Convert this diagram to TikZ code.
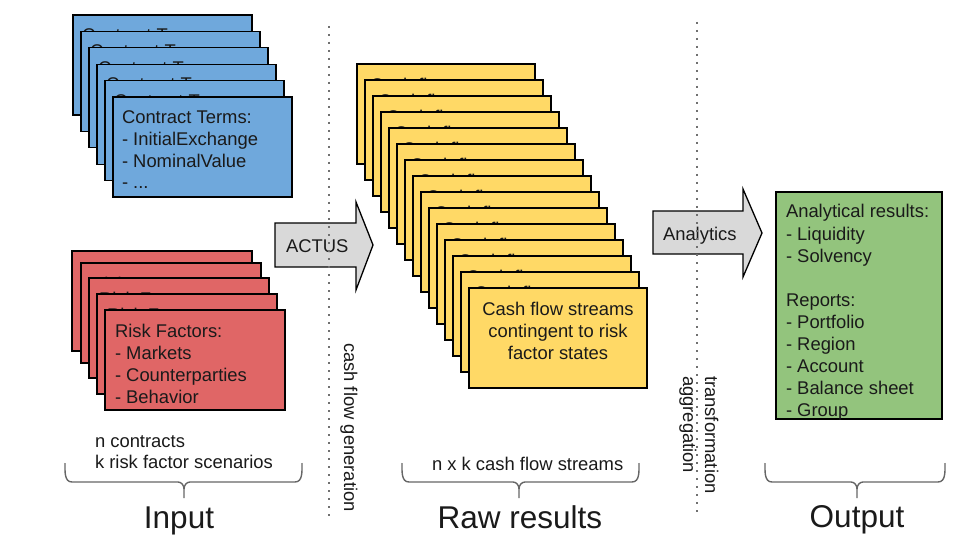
\documentclass[tikz,border=0pt]{standalone}
\usepackage{fontspec}
\setmainfont{Liberation Sans}
\usetikzlibrary{calc}
\definecolor{cblue}{HTML}{6FA8DC}
\definecolor{cred}{HTML}{E06666}
\definecolor{cyellow}{HTML}{FFD966}
\definecolor{cgreen}{HTML}{93C47D}
\definecolor{carrow}{HTML}{D9D9D9}
\definecolor{txt}{HTML}{1A1A1A}
\definecolor{bracegray}{HTML}{666666}
\definecolor{dotgray}{HTML}{707070}
\begin{document}
\begin{tikzpicture}[x=1pt,y=-1pt,
  every node/.style={inner sep=0pt, outer sep=0pt, text=txt,
    font=\fontsize{18.4}{21.8}\selectfont},
  card/.style={draw=black, line width=1.3pt, anchor=north west},
  bluecard/.style={card, fill=cblue, minimum width=179pt, minimum height=100pt},
  redcard/.style={card, fill=cred, minimum width=180pt, minimum height=100pt},
  yellowcard/.style={card, fill=cyellow, minimum width=178pt, minimum height=100pt},
  greenbox/.style={card, fill=cgreen, minimum width=166pt, minimum height=227pt},
  arrowshape/.style={draw=black, line width=1.3pt, fill=carrow, line join=miter},
  bracepath/.style={draw=bracegray, line width=1.4pt},
  dotline/.style={draw=dotgray, line width=1.7pt, dash pattern=on 1.7pt off 6.3pt},
  biglabel/.style={anchor=base, font=\fontsize{31.5}{36}\selectfont}
]
\useasboundingbox[fill=white] (0,0) rectangle (960,540);

% blue contract cards (back ones: only the peeking first line)
\foreach \i in {0,...,4} {
  \node[bluecard] (b\i) at ({73+8*\i},{15+16.4*\i}) {};
  \node[anchor=north west] (bt\i) at ($(b\i.north west)+(9,13.6)$) {Contract Terms:};
}
\node[bluecard] (b5) at (113,97) {};
\node[anchor=north west, align=left] (bt5) at ($(b5.north west)+(9,13.6)$)
  {Contract Terms:\\- InitialExchange\\- NominalValue\\- ...};

% red risk factor cards
\foreach \x/\y [count=\i from 0] in {72/251, 81/263, 89/278, 97/294} {
  \node[redcard] (r\i) at (\x,\y) {};
  \node[anchor=north west] (rt\i) at ($(r\i.north west)+(10,13.8)$) {Risk Factors:};
}
\node[redcard] (r4) at (105,310) {};
\node[anchor=north west, align=left] (rt4) at ($(r4.north west)+(10,14.4)$)
  {Risk Factors:\\- Markets\\- Counterparties\\- Behavior};

% yellow cash flow cards
\foreach \i in {0,...,13} {
  \node[yellowcard] (y\i) at ({357+8*\i},{64+16*\i}) {};
  \node[anchor=north] (yt\i) at ($(y\i.north)+(0,14.4)$) {Cash flow streams};
}
\node[yellowcard] (y14) at (469,288) {};
\node[anchor=north, align=center] (yt14) at ($(y14.north)+(0,14.6)$)
  {Cash flow streams\\contingent to risk\\factor states};

% green output box
\node[greenbox] (g) at (776,192) {};
\node[anchor=north west, align=left, font=\fontsize{18.4}{22.1}\selectfont] (gt)
  at ($(g.north west)+(10,12.6)$)
  {Analytical results:\\- Liquidity\\- Solvency\\[22.1pt]Reports:\\- Portfolio\\- Region\\- Account\\- Balance sheet\\- Group};

% arrows
\draw[arrowshape] (275,223) -- (356,223) -- (356,202) -- (373,245) -- (356,290) -- (356,267) -- (275,267) -- cycle;
\node[anchor=base west] (actus) at (286,252) {ACTUS};
\draw[arrowshape] (653,211) -- (743,211) -- (743,189) -- (762,233) -- (743,277) -- (743,254) -- (653,254) -- cycle;
\node[anchor=base west] (analytics) at (663,240) {Analytics};

% dotted separators
\coordinate (d1a) at (329,26);
\coordinate (d1b) at (329,516);
\coordinate (d2a) at (697,22);
\coordinate (d2b) at (697,516);
\draw[dotline] (d1a) -- (d1b);
\draw[dotline] (d2a) -- (d2b);

% rotated labels
\node[anchor=base west, rotate=-90] (cfg) at (344,343) {cash flow generation};
\node[anchor=base west, rotate=-90] (trf) at (705,376) {transformation};
\node[anchor=base west, rotate=-90] (agg) at (683,376) {aggregation};

% bottom texts
\node[anchor=base west] (nc) at (95,447) {n contracts};
\node[anchor=base west] (kr) at (95,468) {k risk factor scenarios};
\node[anchor=base west] (nk) at (432,470) {n x k cash flow streams};

% braces
\foreach \L/\C/\R in {65/184/302, 402/519/639, 765/857/945} {
  \draw[bracepath] (\L,463) to[out=-90,in=180] (\L+7,482) -- (\C-6,482)
     to[out=0,in=90] (\C,489) -- (\C,498);
  \draw[bracepath] (\R,463) to[out=-90,in=0] (\R-7,482) -- (\C+6,482)
     to[out=180,in=90] (\C,489);
}

\node[biglabel] (input) at (179,528) {Input};
\node[biglabel] (raw) at (520,528) {Raw results};
\node[biglabel] (output) at (857,527) {Output};
\end{tikzpicture}
\end{document}
